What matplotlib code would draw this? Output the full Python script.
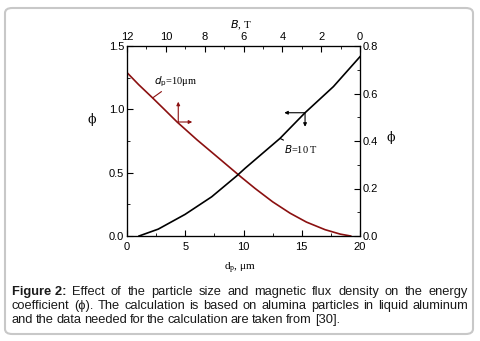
import numpy as np
import matplotlib
matplotlib.use('Agg')
import matplotlib.pyplot as plt
from matplotlib.patches import FancyBboxPatch
from matplotlib.ticker import MultipleLocator, FormatStrFormatter

# phi vs particle size d_p (B = 10 T), bottom/left axes
dp = [0, 1, 2.2, 3.2, 4.3, 6.0, 8.0, 9.8, 11.0, 12.5, 14.0, 15.4, 17.0, 18.3, 19.2]
phi_dp = [1.29, 1.195, 1.09, 1.0, 0.90, 0.76, 0.605, 0.465, 0.375, 0.27, 0.18, 0.11, 0.05, 0.015, 0.0]

# phi vs magnetic flux density B (d_p = 10 um), top/right axes
B = [11.38, 10.39, 9.01, 7.64, 6.35, 5.92, 4.12, 2.83, 1.37, 0.0]
phi_B = [0.0, 0.029, 0.091, 0.165, 0.253, 0.285, 0.411, 0.519, 0.629, 0.755]

caption = ["Effect of the particle size and magnetic flux density on the energy",
           "coefficient (\u03d5). The calculation is based on alumina particles in liquid aluminum",
           "and the data needed for the calculation are taken from [30]."]

red = '#8b1010'
fig = plt.figure(figsize=(4.8, 3.41), dpi=100)
plt.rcParams['font.family'] = 'Liberation Sans'

# rounded frame
frame = FancyBboxPatch((5/480, 7/341), 468/480, 326/341, boxstyle='round,pad=0,rounding_size=0.015',
                       transform=fig.transFigure, fc='none', ec='#c8c8c8', lw=1.5)
fig.patches.append(frame)

ax = fig.add_axes([127/480, 105/341, 233/480, 190/341])
ax.plot(dp, phi_dp, color=red, lw=1.2)
ax.set_xlim(0, 20)
ax.set_ylim(0, 1.5)
ax.xaxis.set_major_locator(MultipleLocator(5))
ax.xaxis.set_minor_locator(MultipleLocator(2.5))
ax.yaxis.set_major_locator(MultipleLocator(0.5))
ax.yaxis.set_minor_locator(MultipleLocator(0.25))
ax.yaxis.set_major_formatter(FormatStrFormatter('%.1f'))
ax.tick_params(which='both', direction='in', labelsize=8, pad=2)
ax.tick_params(which='major', length=4)
ax.tick_params(which='minor', length=2.5)
ax.tick_params(axis='x', pad=4)

ax2 = ax.twinx()
ax2.set_ylim(0, 0.8)
ax2.yaxis.set_major_locator(MultipleLocator(0.2))
ax2.yaxis.set_minor_locator(MultipleLocator(0.1))
ax2.yaxis.set_major_formatter(FormatStrFormatter('%.1f'))
ax2.tick_params(which='both', direction='in', labelsize=8, pad=2)
ax2.tick_params(which='major', length=4)
ax2.tick_params(which='minor', length=2.5)

ax3 = ax2.twiny()
ax3.plot(B, phi_B, color='black', lw=1.2)
ax3.set_xlim(12, 0)
ax3.xaxis.set_major_locator(MultipleLocator(2))
ax3.xaxis.set_minor_locator(MultipleLocator(1))
ax3.tick_params(which='both', direction='in', labelsize=8, pad=3)
ax3.tick_params(which='major', length=4)
ax3.tick_params(which='minor', length=2.5)

serif = 'Liberation Serif'
fig.text(92/480, 1 - 120/341, '\u03d5', ha='center', va='center', fontsize=9, family='DejaVu Serif')
fig.text(391/480, 1 - 137/341, '\u03d5', ha='center', va='center', fontsize=9, family='DejaVu Serif')
fig.text(240/480, 1 - 268/341, 'd$_{\\mathregular{p}}$, \u03bcm', ha='center', va='center', fontsize=8, family=serif)
fig.text(241/480, 1 - 25/341, '$\\it{B}$, T', ha='center', va='center', fontsize=8, family=serif)

# annotations
ax.annotate('$\\it{d}_{\\rm p}$=10\u03bcm', xy=(2.2, 1.09), xytext=(2.3, 1.2), fontsize=7.5, family=serif,
            arrowprops=dict(arrowstyle='-', color=red, lw=0.8, shrinkA=0, shrinkB=0))
ax.annotate('', xy=(4.4, 1.06), xytext=(4.4, 0.9),
            arrowprops=dict(arrowstyle='-|>', color=red, lw=0.8, mutation_scale=5, shrinkA=0, shrinkB=0))
ax.annotate('', xy=(5.6, 0.9), xytext=(4.4, 0.9),
            arrowprops=dict(arrowstyle='-|>', color=red, lw=0.8, mutation_scale=5, shrinkA=0, shrinkB=0))
ax3.annotate('', xy=(3.9, 0.519), xytext=(2.83, 0.519),
             arrowprops=dict(arrowstyle='-|>', color='black', lw=0.8, mutation_scale=5, shrinkA=0, shrinkB=0))
ax3.annotate('', xy=(2.83, 0.46), xytext=(2.83, 0.519),
             arrowprops=dict(arrowstyle='-|>', color='black', lw=0.8, mutation_scale=5, shrinkA=0, shrinkB=0))
ax3.annotate('$\\it{B}$=10 T', xy=(4.12, 0.411), xytext=(3.9, 0.35), fontsize=7.5, family=serif,
             arrowprops=dict(arrowstyle='-', color='black', lw=0.8, shrinkA=0, shrinkB=0))

# justified caption
fig.canvas.draw()
r = fig.canvas.get_renderer()
x0, x1 = 12, 468
ys = [292, 306, 320]
fs = 9.3
for i, line in enumerate(caption):
    words = line.split(' ')
    items = []
    if i == 0:
        items.append(('Figure 2:', 'bold'))
    items += [(w, 'normal') for w in words]
    widths = []
    for w, wt in items:
        t = fig.text(0, 0, w, fontsize=fs, fontweight=wt)
        widths.append(t.get_window_extent(r).width)
        t.remove()
    last = i == len(caption) - 1
    gap = (x1 - x0 - sum(widths)) / (len(items) - 1) if not last else 2.6
    x = x0
    for (w, wt), wd in zip(items, widths):
        fig.text(x / 480, 1 - ys[i] / 341, w, fontsize=fs, fontweight=wt, va='center', color='#1a1a1a')
        x += wd + gap

fig.savefig('out.png', dpi=100)
